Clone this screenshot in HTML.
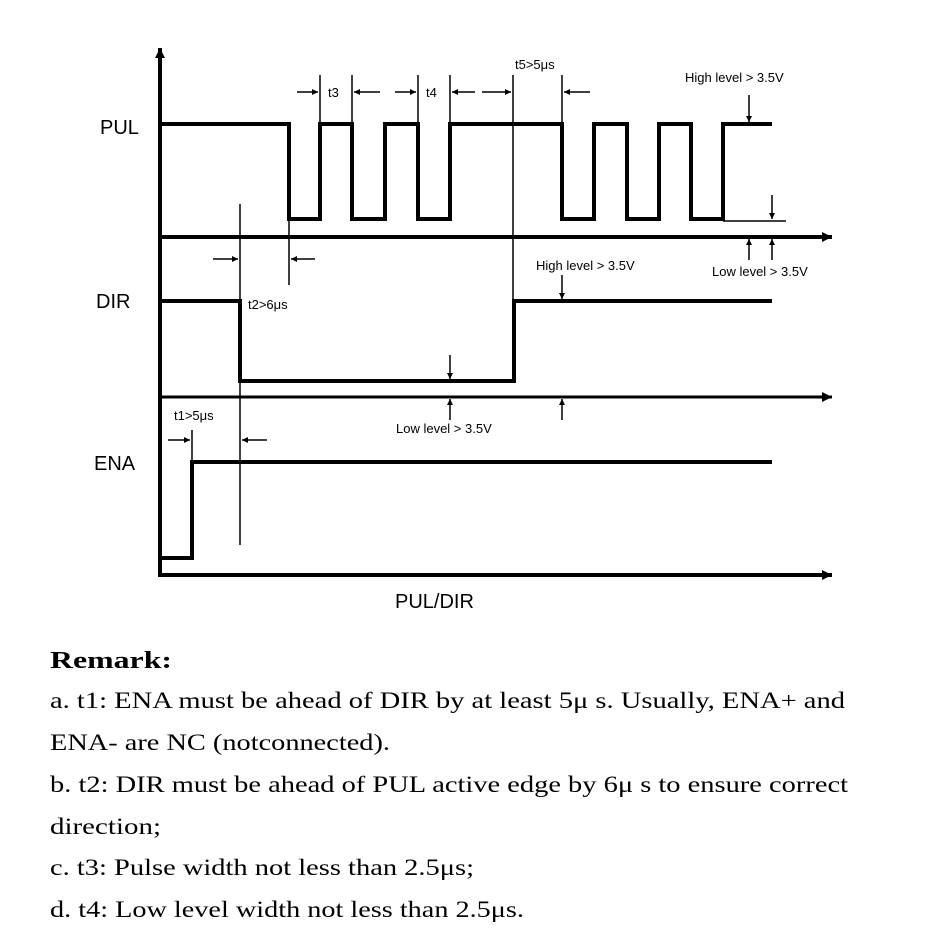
<!DOCTYPE html>
<html><head><meta charset="utf-8"><style>html,body{margin:0;padding:0;background:#fff}svg{display:block}</style></head><body>
<svg width="935" height="948" viewBox="0 0 935 948" xmlns="http://www.w3.org/2000/svg">
<defs>
<marker id="ah" viewBox="0 0 10 10" refX="10" refY="5" markerWidth="6" markerHeight="6" markerUnits="userSpaceOnUse" orient="auto"><path d="M0,0 L10,5 L0,10 z" fill="#000"/></marker>
<marker id="big" viewBox="0 0 10 10" refX="10" refY="5" markerWidth="12" markerHeight="10" markerUnits="userSpaceOnUse" orient="auto"><path d="M0,0 L10,5 L0,10 z" fill="#000"/></marker>
</defs>
<g stroke="#000" fill="none">
<!-- axes -->
<line x1="160" y1="577" x2="160" y2="48" stroke-width="4" marker-end="url(#big)"/>
<line x1="158" y1="237" x2="832" y2="237" stroke-width="4" marker-end="url(#big)"/>
<line x1="158" y1="397" x2="832" y2="397" stroke-width="3" marker-end="url(#big)"/>
<line x1="158" y1="575" x2="832" y2="575" stroke-width="4" marker-end="url(#big)"/>
<!-- PUL -->
<polyline stroke-width="4" points="160,124 289,124 289,219 320,219 320,124 352,124 352,219 385,219 385,124 418,124 418,219 450,219 450,124 562,124 562,219 594,219 594,124 627,124 627,219 659,219 659,124 691,124 691,219 723,219 723,124 772,124"/>
<line x1="723" y1="221" x2="786" y2="221" stroke-width="1.5"/>
<!-- DIR -->
<polyline stroke-width="4" points="160,301 240,301 240,381 514,381 514,301 772,301"/>
<!-- ENA -->
<polyline stroke-width="4" points="160,558 192,558 192,462 772,462"/>
<!-- thin guide lines -->
<g stroke-width="1.5">
<line x1="320" y1="75" x2="320" y2="124"/><line x1="352" y1="75" x2="352" y2="124"/>
<line x1="418" y1="75" x2="418" y2="124"/><line x1="450" y1="75" x2="450" y2="124"/>
<line x1="513" y1="75" x2="513" y2="381"/><line x1="562" y1="75" x2="562" y2="124"/>
<line x1="240" y1="204" x2="240" y2="545"/>
<line x1="289" y1="219" x2="289" y2="285"/>
<line x1="192" y1="430" x2="192" y2="462"/>
</g>
<!-- arrows -->
<g stroke-width="1.5" marker-end="url(#ah)">
<line x1="297" y1="92" x2="318" y2="92"/><line x1="380" y1="92" x2="354" y2="92"/>
<line x1="395" y1="92" x2="416" y2="92"/><line x1="475" y1="92" x2="452" y2="92"/>
<line x1="482" y1="92" x2="511" y2="92"/><line x1="590" y1="92" x2="564" y2="92"/>
<line x1="213" y1="259" x2="238" y2="259"/><line x1="315" y1="259" x2="291" y2="259"/>
<line x1="168" y1="440" x2="190" y2="440"/><line x1="267" y1="440" x2="242" y2="440"/>
<line x1="749" y1="95" x2="749" y2="122"/>
<line x1="772" y1="195" x2="772" y2="219"/>
<line x1="749" y1="260" x2="749" y2="239"/><line x1="772" y1="260" x2="772" y2="239"/>
<line x1="562" y1="275" x2="562" y2="299"/>
<line x1="450" y1="355" x2="450" y2="379"/>
<line x1="450" y1="420" x2="450" y2="399"/><line x1="562" y1="420" x2="562" y2="399"/>
</g>
</g>
<g font-family="Liberation Sans, sans-serif" fill="#000">
<text x="100" y="134" font-size="20">PUL</text>
<text x="96" y="308" font-size="20">DIR</text>
<text x="94" y="470" font-size="20">ENA</text>
<text x="395" y="608" font-size="20">PUL/DIR</text>
<g font-size="13">
<text x="328" y="97">t3</text>
<text x="426" y="97">t4</text>
<text x="515" y="69">t5&gt;5μs</text>
<text x="685" y="82">High level &gt; 3.5V</text>
<text x="536" y="270">High level &gt; 3.5V</text>
<text x="712" y="276">Low level &gt; 3.5V</text>
<text x="248" y="309">t2&gt;6μs</text>
<text x="174" y="420">t1&gt;5μs</text>
<text x="396" y="433">Low level &gt; 3.5V</text>
</g>
</g>
<g font-family="Liberation Serif, serif" fill="#000" font-size="23">
<text x="50" y="668" font-weight="bold" font-size="24" textLength="122" lengthAdjust="spacingAndGlyphs">Remark:</text>
<text x="50" y="708" textLength="795" lengthAdjust="spacingAndGlyphs">a. t1: ENA must be ahead of DIR by at least 5μ s. Usually, ENA+ and</text>
<text x="50" y="750" textLength="340" lengthAdjust="spacingAndGlyphs">ENA- are NC (notconnected).</text>
<text x="50" y="792" textLength="798" lengthAdjust="spacingAndGlyphs">b. t2: DIR must be ahead of PUL active edge by 6μ s to ensure correct</text>
<text x="50" y="834" textLength="111" lengthAdjust="spacingAndGlyphs">direction;</text>
<text x="50" y="875" textLength="424" lengthAdjust="spacingAndGlyphs">c. t3: Pulse width not less than 2.5μs;</text>
<text x="50" y="917" textLength="474" lengthAdjust="spacingAndGlyphs">d. t4: Low level width not less than 2.5μs.</text>
</g>
</svg>
</body></html>
